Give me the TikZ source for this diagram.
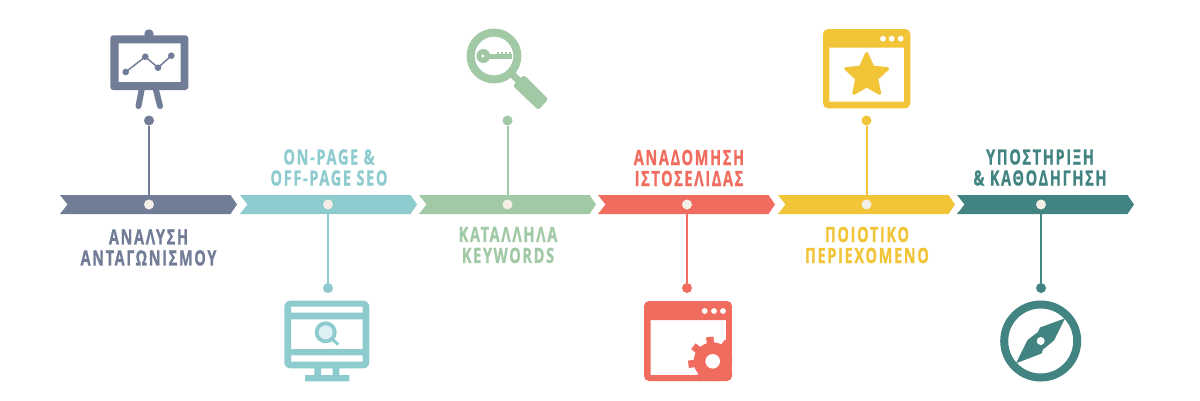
\documentclass[tikz,border=0pt]{standalone}
\usepackage{fontspec}
\usetikzlibrary{shapes.geometric}
\newfontfamily\labelfont[FakeStretch=0.69,LetterSpace=8,FakeBold=0.7]{Open Sans}
\definecolor{slate}{HTML}{717C96}
\definecolor{aqua}{HTML}{8DCBCE}
\definecolor{sage}{HTML}{A1C9A5}
\definecolor{coral}{HTML}{F06C5F}
\definecolor{amber}{HTML}{F2C438}
\definecolor{pine}{HTML}{428482}
\definecolor{cream}{HTML}{F3EEE6}
\definecolor{paleblue}{HTML}{DDF0F4}
\tikzset{
  hub/.style={circle,fill=cream,minimum size=10pt,inner sep=0pt},
  tip/.style={circle,fill=#1,minimum size=10pt,inner sep=0pt},
  stem/.style={draw=#1,line width=2pt},
  steplabel/.style={text=#1,font=\labelfont\bfseries\fontsize{21}{21}\selectfont,align=center,inner sep=0pt},
}
\begin{document}
\begin{tikzpicture}[x=1pt,y=-1pt]
\useasboundingbox (0,0) rectangle (1200,400);
\fill[white] (0,0) rectangle (1200,400);
% bars
\foreach \x/\c in {60/slate,240/aqua,419/sage,598/coral,778/amber,957/pine}
\fill[\c] (\x,195) -- (\x+170.5,195) -- (\x+177,204.5) -- (\x+170.5,214) -- (\x,214) -- (\x+7.5,204.5) -- cycle;
% hubs and stems
\foreach \n/\x/\y/\c in {a/149/120.5/slate,b/328/288/aqua,c/507.5/120.5/sage,d/687/288/coral,e/866.5/120.5/amber,f/1041/288/pine}{
\node[hub] (hub\n) at (\x,204.5) {};
\node[tip=\c] (tip\n) at (\x,\y) {};
\draw[stem=\c] (tip\n) -- (hub\n);
}
% labels
\node[steplabel=slate] (laba) at (148.5,247.5) {ΑΝΑΛΥΣΗ\\ΑΝΤΑΓΩΝΙΣΜΟΥ};
\node[steplabel=aqua] (labb) at (329,167.5) {ON-PAGE \&\\OFF-PAGE SEO};
\node[steplabel=sage] (labc) at (508,245) {ΚΑΤΑΛΛΗΛΑ\\KEYWORDS};
\node[steplabel=coral] (labd) at (689,168) {ΑΝΑΔΟΜΗΣΗ\\ΙΣΤΟΣΕΛΙΔΑΣ};
\node[steplabel=amber] (labe) at (867,245) {ΠΟΙΟΤΙΚΟ\\ΠΕΡΙΕΧΟΜΕΝΟ};
\node[steplabel=pine] (labf) at (1040,167.5) {ΥΠΟΣΤΗΡΙΞΗ\\\& ΚΑΘΟΔΗΓΗΣΗ};
% board
\fill[slate] (149,34) circle (4.7);
\fill[slate,even odd rule] [rounded corners=3] (110.3,35.3) rectangle (188.3,90) [sharp corners] (118.7,43.3) rectangle (180.7,82);
\draw[slate,line width=6pt,line cap=round] (142,88) -- (138.5,106) (155.5,88) -- (160,106);
\draw[slate,line width=1.5pt] (125.7,72) -- (145.3,56.7) -- (158,67.7) -- (171.3,55.7);
\foreach \x/\y in {125.7/72,145.3/56.7,158/67.7,171.3/55.7}
\fill[slate] (\x,\y) circle (3.3);
% monitor
\fill[aqua,even odd rule] [rounded corners=6] (284.3,300.7) rectangle (369.3,368.3) [sharp corners] (291,306.7) rectangle (362.7,312.7) (291,319.3) rectangle (362.7,349) (291,355.3) rectangle (362.7,361.7);
\fill[aqua] (314.3,368) rectangle (321,375) (332.7,368) rectangle (339.3,375) (305,375) rectangle (349.3,381.3);
\draw[aqua,line width=3pt] (332.5,339.5) -- (338.3,344.5);
\fill[aqua] (325.7,332.3) circle (11);
\fill[paleblue] (325.7,332.3) circle (7);
% magnifier
\draw[sage,line width=8pt] (494,56) circle (23.4);
\draw[sage,line width=7pt] (512,74) -- (522,84);
\fill[sage,rounded corners=2.5] (524,75) -- (548.3,99.3) -- (538.3,110) -- (512.7,85.7) -- cycle;
\fill[sage] (483.3,56) circle (7);
\fill[sage] (485,53.7) rectangle (511.7,58.5);
\foreach \x in {497,501,505,509}
\fill[sage] (\x,52.2) rectangle (\x+2.2,54);
\fill[white] (482.7,56) circle (1.6);
% window with gear
\begin{scope}
\clip[rounded corners=5] (644,301) rectangle (732,381);
\fill[coral,even odd rule] (644,301) rectangle (732,381) (650.7,320) rectangle (726,375);
\fill[coral] (712.7,361.3) circle (19);
\foreach \a in {7,52,97,142,187,232,277,322}
\fill[coral,rotate around={\a:(712.7,361.3)}] (712.7+16,361.3-3.7) rectangle (712.7+24.5,361.3+3.7);
\end{scope}
\fill[white] (712.7,361.3) circle (7.3);
\foreach \x in {704.7,714,723}
\fill[white] (\x,311) circle (2.9);
% window with star
\fill[amber,even odd rule] [rounded corners=5] (823,29) rectangle (910.3,108.3) [sharp corners] (829.3,47.7) rectangle (904,101.7);
\foreach \x in {883,891.7,900.7}
\fill[white] (\x,38.7) circle (2.9);
\node[star,star points=5,star point ratio=2.1,minimum size=44pt,inner sep=0pt,fill=amber,draw=amber,line width=3pt,line join=round] (goldstar) at (866.7,75.5) {};
% compass
\draw[pine,line width=8pt] (1040.7,341) circle (36.5);
\fill[pine] (1065,318.3) -- (1040,327.5) -- (1038,332) -- (1027.5,340) -- (1016,363.3) -- (1041.5,353.5) -- (1043,349.5) -- (1054,340.5) -- cycle;
\fill[white] (1040.7,341) circle (4);
\end{tikzpicture}
\end{document}
